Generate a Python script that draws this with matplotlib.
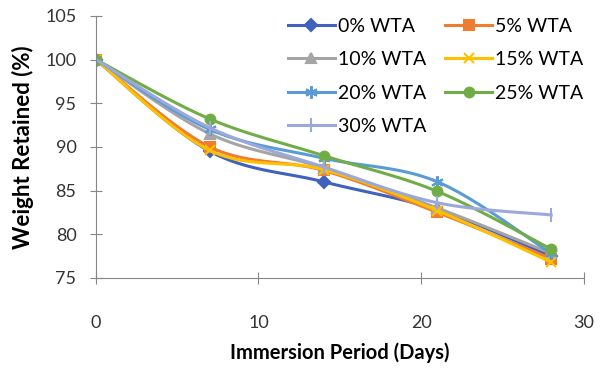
import matplotlib.pyplot as plt
import numpy as np

# DATA
days = [0, 7, 14, 21, 28]
series_names = ["0% WTA", "5% WTA", "10% WTA", "15% WTA", "20% WTA", "25% WTA", "30% WTA"]
wta_0 = [100, 89.5, 86.0, 82.8, 77.5]
wta_5 = [100, 90.0, 87.3, 82.5, 77.2]
wta_10 = [100, 91.5, 87.6, 83.0, 77.8]
wta_15 = [100, 89.6, 87.4, 82.7, 76.8]
wta_20 = [100, 92.0, 88.7, 86.0, 77.8]
wta_25 = [100, 93.2, 89.0, 84.9, 78.3]
wta_30 = [100, 92.2, 87.7, 83.6, 82.2]

# STYLE
colors = ["#3F62BF", "#ED7D31", "#A5A5A5", "#FFC000", "#5B9BD5", "#70AD47", "#9AA8DC"]
markers = ["D", "s", "^", "x", (6, 2, 0), "o", "|"]
msizes = [6, 7, 7, 7, 9, 7, 10]

plt.rcParams["font.family"] = ["Lato", "DejaVu Sans"]


def smooth(x, y, n=30):
    # catmull-rom style bezier, like excel "smoothed line"
    x = np.asarray(x, float)
    y = np.asarray(y, float)
    xs, ys = [], []
    for i in range(len(x) - 1):
        x0, y0 = (x[i - 1], y[i - 1]) if i > 0 else (x[i], y[i])
        x3, y3 = (x[i + 2], y[i + 2]) if i + 2 < len(x) else (x[i + 1], y[i + 1])
        p1 = np.array([x[i], y[i]])
        p2 = np.array([x[i + 1], y[i + 1]])
        c1 = p1 + (p2 - np.array([x0, y0])) / 6
        c2 = p2 - (np.array([x3, y3]) - p1) / 6
        t = np.linspace(0, 1, n)[:, None]
        pts = (1 - t) ** 3 * p1 + 3 * (1 - t) ** 2 * t * c1 + 3 * (1 - t) * t ** 2 * c2 + t ** 3 * p2
        xs.extend(pts[:, 0])
        ys.extend(pts[:, 1])
    return xs, ys


fig = plt.figure(figsize=(6.03, 3.69), dpi=100)
ax = fig.add_axes([0.159, 0.247, 0.809, 0.71])

handles = []
for name, vals, c, m, ms in zip(series_names, [wta_0, wta_5, wta_10, wta_15, wta_20, wta_25, wta_30],
                                colors, markers, msizes):
    sx, sy = smooth(days, vals)
    ax.plot(sx, sy, color=c, lw=2.2)
    ax.plot(days, vals, ls="none", marker=m, ms=ms, color=c, mec=c, mew=1.5)
    h, = ax.plot([], [], color=c, lw=2.2, marker=m, ms=ms, mec=c, mew=1.5)
    handles.append(h)

ax.set_xlim(0, 30)
ax.set_ylim(75, 105)
ax.set_xticks([0, 10, 20, 30])
ax.set_yticks([75, 80, 85, 90, 95, 100, 105])
for s in ["top", "right"]:
    ax.spines[s].set_visible(False)
for s in ["left", "bottom"]:
    ax.spines[s].set_color("#868686")
ax.spines["left"].set_position(("data", 0))
ax.tick_params(direction="inout", length=8, color="#868686", labelsize=13, labelcolor="#333333", pad=10)
ax.tick_params(axis="x", pad=23)

ax.set_xlabel("Immersion Period (Days)", fontsize=14.5, fontweight="bold", labelpad=8)
ax.set_ylabel("Weight Retained (%)", fontsize=16, fontweight="bold", labelpad=8)

order = [0, 2, 4, 6, 1, 3, 5]
ax.legend([handles[i] for i in order], [series_names[i] for i in order], ncol=2,
          frameon=False, fontsize=14, loc="upper right", bbox_to_anchor=(1.035, 1.06),
          handlelength=2.4, labelspacing=0.85, columnspacing=1.0, handletextpad=0.15)

plt.savefig("out.png", dpi=100)
